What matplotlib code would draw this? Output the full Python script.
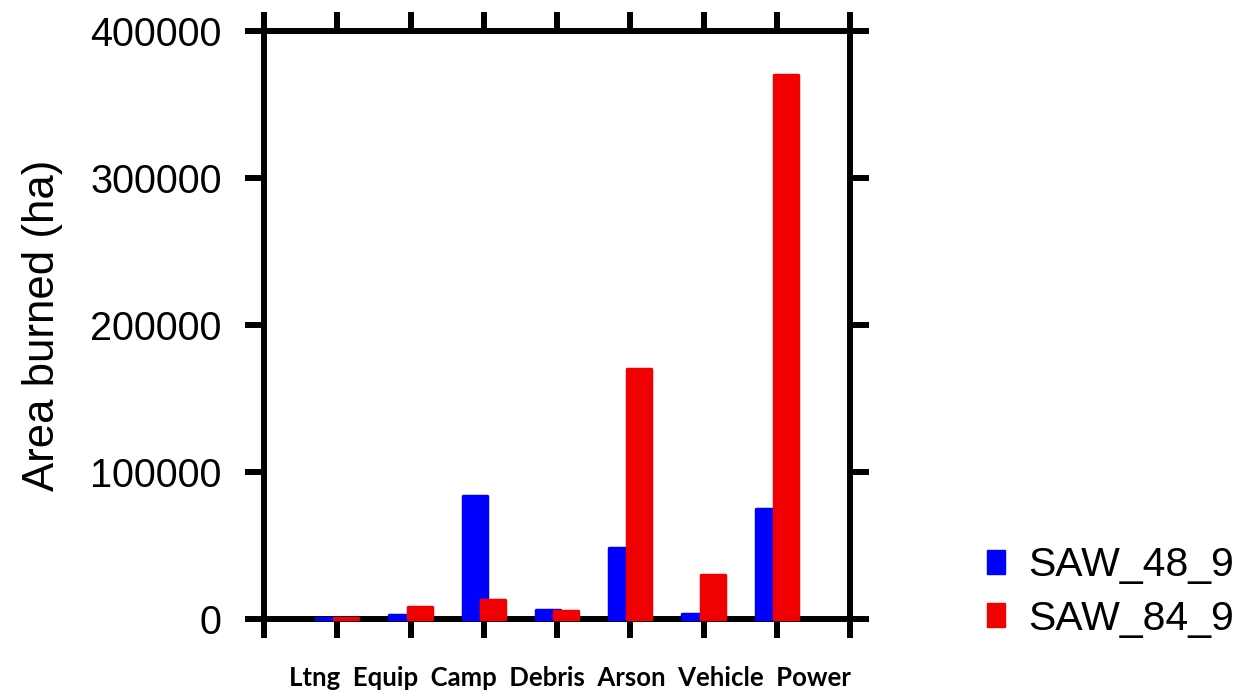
import matplotlib
matplotlib.use("Agg")
import matplotlib.pyplot as plt
import numpy as np
from matplotlib.patches import Patch

categories = ["Ltng", "Equip", "Camp", "Debris", "Arson", "Vehicle", "Power"]
series_names = ["SAW_48_9", "SAW_84_9"]
saw_48_9 = [800, 2500, 83500, 6000, 48000, 3500, 75000]
saw_84_9 = [800, 8000, 13000, 5200, 170000, 30000, 370000]
y_ticks = [0, 100000, 200000, 300000, 400000]
colors = ["#0000ff", "#f00000"]

fig = plt.figure(figsize=(12.39, 6.96), dpi=100)
ax = fig.add_axes([264/1239, 1-619/696, (850-264)/1239, (619-31)/696])

x = np.arange(1, len(categories) + 1)
off = 0.125
w = 0.33
for vals, dx, c, name in [(saw_48_9, -off, colors[0], series_names[0]),
                          (saw_84_9, off, colors[1], series_names[1])]:
    ax.bar(x + dx, vals, width=w, color=c, edgecolor=c, linewidth=2.5,
           joinstyle="round", zorder=5, label=name, clip_on=False)

ax.set_xlim(0, len(categories) + 1)
ax.set_ylim(0, 400000)
ax.set_xticks(np.arange(0, len(categories) + 2))
ax.set_xticklabels([])
ax.set_yticks(y_ticks)
ax.set_yticklabels([str(v) for v in y_ticks], fontsize=28.5, family="Liberation Sans")

for s in ax.spines.values():
    s.set_linewidth(4.3)
    s.set_capstyle("round")
ax.tick_params(axis="both", which="both", direction="out", length=13.5, width=4.3,
               top=True, right=True, bottom=True, left=True)
ax.tick_params(axis="y", labelright=False, pad=17)

ax.set_ylabel("Area burned (ha)", fontsize=31.5, family="Liberation Sans")
ax.yaxis.set_label_coords(-0.343, 0.5)

ax.text(0.522, -0.1, "  ".join(categories), transform=ax.transAxes,
        ha="center", va="center", fontsize=18.5, fontweight="bold", family="Lato")

handles = [Patch(facecolor=c, edgecolor=c) for c in colors]
fig.legend(handles, series_names, loc="center left", bbox_to_anchor=(987/1239, 1-592/696),
           frameon=False, prop={"family": "Liberation Sans", "size": 29.5},
           handlelength=0.45, handleheight=0.5, handletextpad=0.55,
           labelspacing=0.37, borderpad=0, borderaxespad=0)

fig.savefig("out.png", dpi=100)
